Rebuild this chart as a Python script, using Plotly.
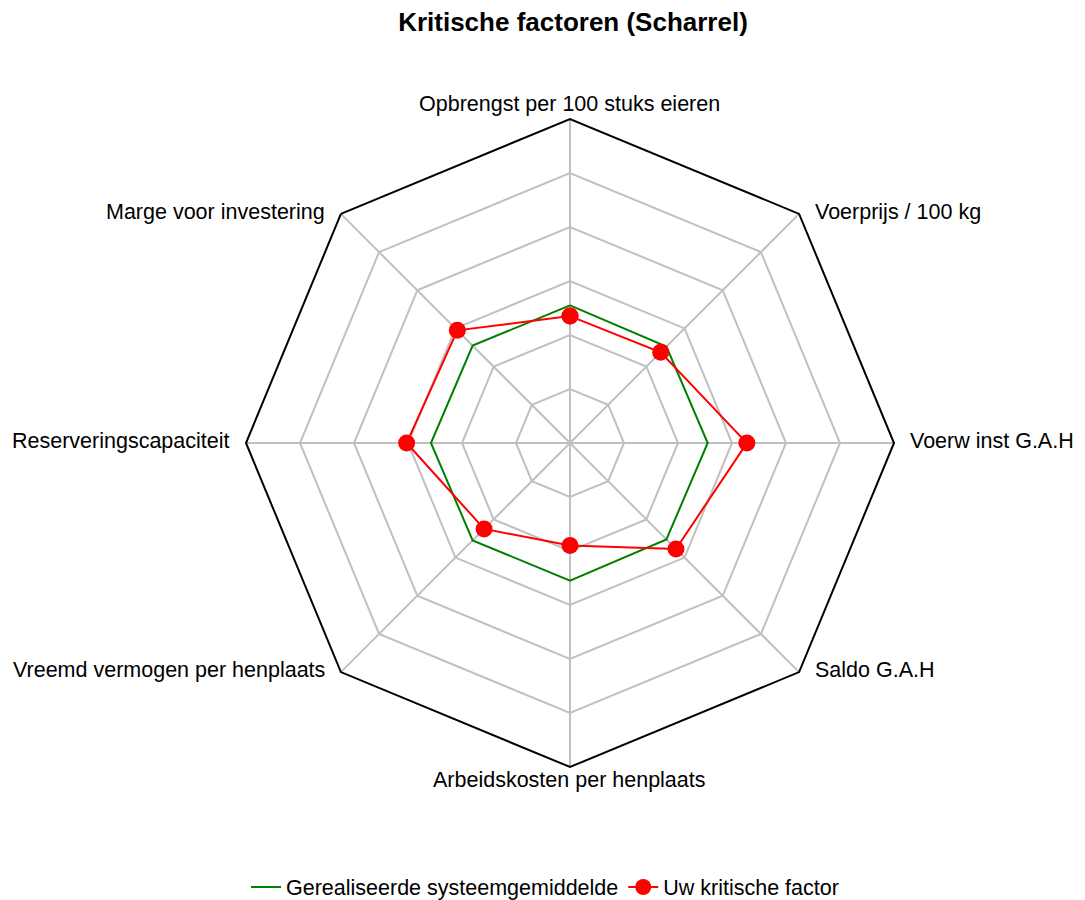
import math
import plotly.graph_objects as go

categories = [
    "Opbrengst per 100 stuks eieren",
    "Voerprijs / 100 kg",
    "Voerw inst G.A.H",
    "Saldo G.A.H",
    "Arbeidskosten per henplaats",
    "Vreemd vermogen per henplaats",
    "Reserveringscapaciteit",
    "Marge voor investering",
]
systeemgemiddelde = [1.02, 1.01, 1.02, 1.01, 1.02, 1.02, 1.03, 1.02]
kritische_factor = [0.94, 0.95, 1.31, 1.11, 0.76, 0.90, 1.21, 1.18]
radial_max = 2.4
radial_step = 0.4

W, H = 1085, 900
# geometry of the radar (pixels)
cx, cy, R = 570, 443, 324

fig = go.Figure()
fig.add_trace(go.Scatterpolar(
    r=systeemgemiddelde + systeemgemiddelde[:1],
    theta=categories + categories[:1],
    mode="lines",
    line=dict(color="#008000", width=2),
    name="Gerealiseerde systeemgemiddelde",
))
fig.add_trace(go.Scatterpolar(
    r=kritische_factor + kritische_factor[:1],
    theta=categories + categories[:1],
    mode="lines+markers",
    line=dict(color="#ff0000", width=2),
    marker=dict(color="#ff0000", size=17),
    name="Uw kritische factor",
))

# category labels placed next to the polygon vertices
annotations = []
n = len(categories)
for k, name in enumerate(categories):
    ang = math.radians(90 - 360 * k / n)
    vx = cx + R * math.cos(ang)
    vy = cy - R * math.sin(ang)
    c = math.cos(ang)
    if abs(c) < 0.1:
        if math.sin(ang) > 0:
            px, py, xa = vx, vy - 15, "center"
        else:
            px, py, xa = vx, vy + 13, "center"
    elif c > 0:
        px, py, xa = vx + 14, vy - 2, "left"
    else:
        px, py, xa = vx - 14, vy - 2, "right"
    annotations.append(dict(
        text=name, x=px / W, y=1 - py / H, xref="paper", yref="paper",
        xanchor=xa, yanchor="middle", showarrow=False,
        font=dict(size=21.5, color="black"),
    ))

fig.update_layout(
    width=W, height=H,
    margin=dict(l=0, r=0, t=0, b=0, autoexpand=False),
    paper_bgcolor="white",
    plot_bgcolor="white",
    font=dict(family="Liberation Sans, Arial, sans-serif", color="black", size=21),
    title=dict(
        text="<b>Kritische factoren (Scharrel)</b>",
        x=573 / W, xanchor="center",
        y=1 - 22 / H, yanchor="middle",
        font=dict(size=26, color="black"),
    ),
    polar=dict(
        domain=dict(x=[(cx - R) / W, (cx + R) / W],
                    y=[1 - (cy + R) / H, 1 - (cy - R) / H]),
        bgcolor="white",
        gridshape="linear",
        radialaxis=dict(
            range=[0, radial_max], dtick=radial_step, tick0=0,
            showticklabels=False, ticks="", showline=False,
            gridcolor="#c0c0c0", gridwidth=2,
        ),
        angularaxis=dict(
            rotation=90, direction="clockwise",
            showline=True, linecolor="black", linewidth=2,
            gridcolor="#c0c0c0", gridwidth=2,
            ticks="", showticklabels=False,
        ),
    ),
    annotations=annotations,
    showlegend=True,
    legend=dict(
        orientation="h",
        x=545 / W, xanchor="center",
        yref="container",
        y=1 - 887 / H, yanchor="middle",
        font=dict(size=21.5, color="black"),
        itemwidth=30,
    ),
)

fig.write_html(
    "out.html",
    config={"displayModeBar": False},
    post_script="document.body.style.margin='0';document.body.style.overflow='hidden';",
)
